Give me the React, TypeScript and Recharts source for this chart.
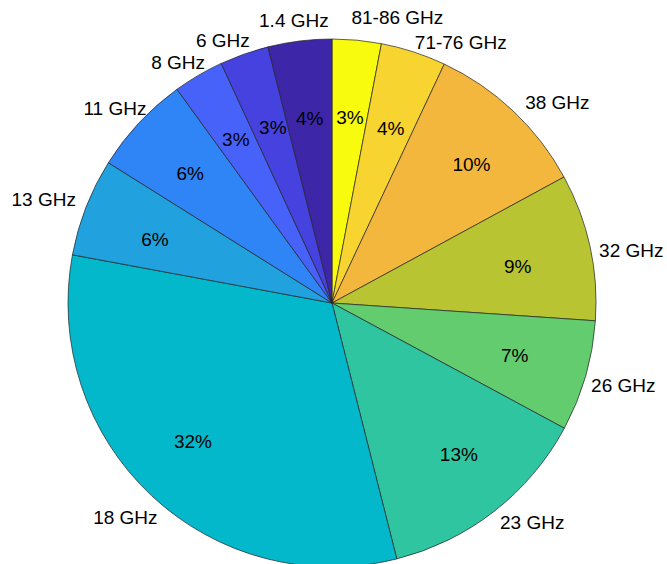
import { Pie, PieChart, Cell } from "recharts"

const bands = ["81-86 GHz", "71-76 GHz", "38 GHz", "32 GHz", "26 GHz", "23 GHz", "18 GHz", "13 GHz", "11 GHz", "8 GHz", "6 GHz", "1.4 GHz"]
const shares = [3.0, 4.0, 10.1, 9.0, 6.8, 13.2, 31.9, 6.0, 6.1, 3.1, 3.0, 3.9]
const colors = ["#F9FB0E", "#F7D42F", "#F4B73E", "#B8C432", "#63CC6F", "#2FC5A0", "#03B8CB", "#22A1DF", "#2F84F6", "#4662F9", "#4542E0", "#3D27A8"]

const chartData = bands.map((name, i) => ({ name, value: shares[i] }))

const RAD = Math.PI / 180
const FONT = 19

// hand nudges so the labels sit where matlab put them
const nameNudge: Record<string, [number, number]> = {
  "81-86 GHz": [35, -2],
  "71-76 GHz": [29, 10],
  "38 GHz": [13, 7],
  "32 GHz": [-3, 8],
  "26 GHz": [-6, 4],
  "23 GHz": [10, -5],
  "18 GHz": [5, 7],
  "11 GHz": [9, 0],
  "8 GHz": [0, 5],
  "6 GHz": [-8, 6],
}
const pctNudge: Record<string, [number, number]> = {
  "81-86 GHz": [0, 4],
  "71-76 GHz": [0, 6],
  "38 GHz": [9, 0],
  "32 GHz": [0, 4],
  "23 GHz": [10, 2],
  "18 GHz": [-9, 0],
  "13 GHz": [0, 6],
  "11 GHz": [-3, 0],
  "6 GHz": [4, 4],
  "1.4 GHz": [1, 4],
}

// rough Arial widths, good enough to push outer labels off the rim
const charW: Record<string, number> = { " ": 0.278, ".": 0.278, "-": 0.333, G: 0.778, H: 0.722, z: 0.5 }
function textWidth(s: string) {
  let w = 0
  for (const c of s) w += (charW[c] ?? 0.556) * FONT
  return w
}

function renderLabel(props: any) {
  const { cx, cy, midAngle, outerRadius, percent, name } = props
  const cos = Math.cos(-midAngle * RAD)
  const sin = Math.sin(-midAngle * RAD)

  const [pdx, pdy] = pctNudge[name] ?? [0, 0]
  const ri = outerRadius * 0.72
  const px = cx + ri * cos + pdx
  const py = cy + ri * sin + pdy

  const [ndx, ndy] = nameNudge[name] ?? [0, 0]
  const ro = outerRadius * 1.05
  const hw = textWidth(name) / 2
  const hh = FONT * 0.4
  const ox = cx + ro * cos + cos * hw + ndx
  const oy = cy + ro * sin + sin * hh + ndy

  return (
    <g>
      <text x={px} y={py} textAnchor="middle" dominantBaseline="central" fill="#000" fontSize={FONT}>
        {`${Math.round(percent * 100)}%`}
      </text>
      <text x={ox} y={oy} textAnchor="middle" dominantBaseline="central" fill="#000" fontSize={FONT}>
        {name}
      </text>
    </g>
  )
}

export default function App() {
  return (
    <div style={{ position: "absolute", left: 0, top: 0, width: 667, height: 564, background: "#fff", fontFamily: "'Liberation Sans', Arial, sans-serif" }}>
      <PieChart width={667} height={564} margin={{ top: 0, right: 0, bottom: 0, left: 0 }}>
        <Pie
          data={chartData}
          dataKey="value"
          nameKey="name"
          cx={332}
          cy={303}
          outerRadius={264}
          startAngle={90}
          endAngle={-270}
          stroke="#222"
          strokeWidth={0.7}
          label={renderLabel}
          labelLine={false}
          isAnimationActive={false}
        >
          {chartData.map((d, i) => (
            <Cell key={d.name} fill={colors[i]} />
          ))}
        </Pie>
      </PieChart>
    </div>
  )
}
